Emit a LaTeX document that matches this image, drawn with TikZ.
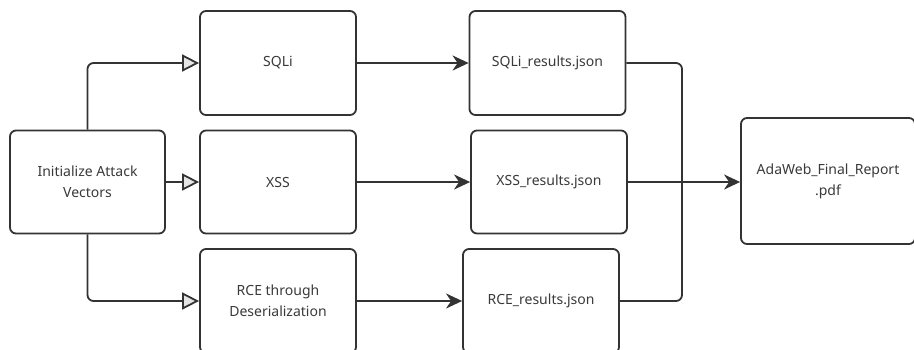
\documentclass[tikz,border=0pt]{standalone}
\usepackage{fontspec}
\setmainfont{Noto Sans}
\usetikzlibrary{arrows.meta}

\definecolor{linegray}{HTML}{333333}
\definecolor{textgray}{HTML}{3A3A3A}

\tikzset{
    stepbox/.style={draw=linegray, line width=1.8pt, rounded corners=6pt, fill=white,
        align=center, text=textgray, font=\fontsize{14}{21}\selectfont, inner sep=0pt},
    openarrow/.style={draw=linegray, line width=1.8pt, rounded corners=6pt,
        -{Triangle[open, fill=white!90!black, length=17pt, width=17pt]}},
    solidarrow/.style={draw=linegray, line width=1.8pt, rounded corners=6pt,
        -{Stealth[length=16pt, width=15pt, inset=5pt]}},
}

\begin{document}
\begin{tikzpicture}[x=1pt,y=-1pt]
    \useasboundingbox (0,0) rectangle (914,349);

        \node[stepbox, minimum width=155pt, minimum height=103pt] (init) at (87.5,182) {Initialize Attack\\Vectors};

        \node[stepbox, minimum width=156pt, minimum height=104pt] (sqli) at (278,63) {SQLi};
        \node[stepbox, minimum width=156pt, minimum height=103pt] (xss) at (278,182) {XSS};
        \node[stepbox, minimum width=156pt, minimum height=104pt] (rce) at (278,301) {RCE through\\Deserialization};

        \node[stepbox, minimum width=156pt, minimum height=104pt] (sqlires) at (547.5,63) {SQLi\_results.json};
        \node[stepbox, minimum width=156pt, minimum height=103pt] (xssres) at (549,182) {XSS\_results.json};
        \node[stepbox, minimum width=156pt, minimum height=104pt] (rceres) at (541,301) {RCE\_results.json};

        \node[stepbox, minimum width=174pt, minimum height=126pt] (report) at (828,181) {AdaWeb\_Final\_Report\\.pdf};

        \coordinate (join) at (682,182);

        \draw[openarrow] (init.north) |- (sqli.west);
        \draw[openarrow] (init.east) -- (xss.west);
        \draw[openarrow] (init.south) |- (rce.west);

        \draw[solidarrow] (sqli.east) -- (sqlires.west);
        \draw[solidarrow] (xss.east) -- (xssres.west);
        \draw[solidarrow] (rce.east) -- (rceres.west);

        \draw[draw=linegray, line width=1.8pt, rounded corners=6pt] (sqlires.east) -| (join);
        \draw[draw=linegray, line width=1.8pt, rounded corners=6pt] (rceres.east) -| (join);
        \draw[draw=linegray, line width=1.8pt] (xssres.east) -- (join);
        \draw[solidarrow] (join) -- (report.west |- join);

    \end{tikzpicture}
\end{document}
